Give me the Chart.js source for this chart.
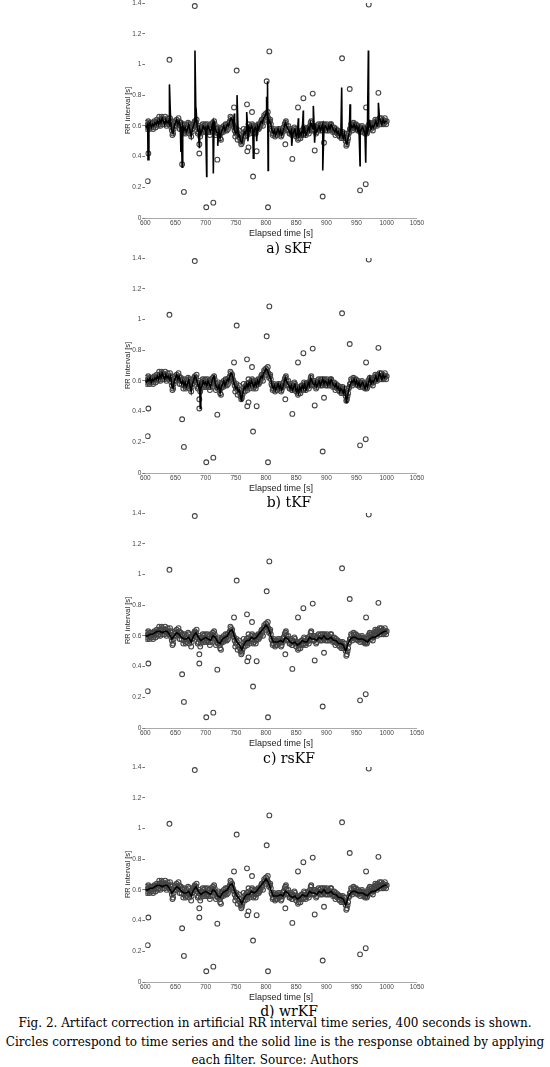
<!DOCTYPE html>
<html>
<head>
<meta charset="utf-8">
<script src="https://cdn.jsdelivr.net/npm/chart.js@4.4.0/dist/chart.umd.min.js"></script>
<style>
  body { margin: 0; width: 550px; height: 1067px; background: #fff; position: relative; overflow: hidden; }
  canvas { position: absolute; left: 0; }
  .panel-label { position: absolute; left: 189px; width: 200px; text-align: center;
                 font-family: 'DejaVu Serif', serif; font-size: 14px; line-height: 16px; color: #000; }
  .caption { position: absolute; left: 0; width: 550px; top: 1014px; text-align: center;
             font-family: 'DejaVu Serif', serif; font-size: 12px; line-height: 18.5px; color: #000; }
</style>
</head>
<body>
<canvas id="chartA" width="550" height="242"></canvas>
<canvas id="chartB" width="550" height="242"></canvas>
<canvas id="chartC" width="550" height="242"></canvas>
<canvas id="chartD" width="550" height="242"></canvas>
<div class="panel-label" id="labelA"></div>
<div class="panel-label" id="labelB"></div>
<div class="panel-label" id="labelC"></div>
<div class="panel-label" id="labelD"></div>
<div class="caption">Fig. 2. Artifact correction in artificial RR interval time series, 400 seconds is shown.<br>Circles correspond to time series and the solid line is the response obtained by applying<br>each filter. Source: Authors</div>
<script>
// ─── Data: RR interval series, beats read every 2 s from 600 s ───────────────
const RAW_T0 = 600;
const RAW_STEP = 2;
const RAW_RR = [
  0.60, 0.59, 0.61, 0.60, 0.62, 0.59, 0.61, 0.60, 0.62, 0.61,
  0.63, 0.61, 0.64, 0.62, 0.65, 0.63, 0.61, 0.64, 0.62, 0.63,
  0.61, 0.63, 0.57, 0.55, 0.60, 0.62, 0.64, 0.61, 0.63, 0.60,
  0.58, 0.60, 0.57, 0.59, 0.56, 0.58, 0.61, 0.57, 0.53, 0.58,
  0.60, 0.63, 0.62, 0.59, 0.56, 0.58, 0.55, 0.57, 0.60, 0.58,
  0.59, 0.57, 0.60, 0.58, 0.56, 0.59, 0.62, 0.63, 0.58, 0.56,
  0.55, 0.57, 0.52, 0.56, 0.58, 0.60, 0.57, 0.59, 0.61, 0.60,
  0.63, 0.65, 0.64, 0.60, 0.57, 0.55, 0.56, 0.53, 0.54, 0.50,
  0.49, 0.53, 0.56, 0.55, 0.58, 0.56, 0.59, 0.57, 0.60, 0.58,
  0.56, 0.59, 0.57, 0.60, 0.58, 0.61, 0.63, 0.62, 0.65, 0.66,
  0.68, 0.67, 0.65, 0.63, 0.61, 0.57, 0.55, 0.57, 0.54, 0.56,
  0.58, 0.55, 0.57, 0.54, 0.56, 0.59, 0.62, 0.60, 0.58, 0.57,
  0.55, 0.57, 0.54, 0.56, 0.58, 0.53, 0.55, 0.52, 0.56, 0.54,
  0.57, 0.55, 0.58, 0.54, 0.56, 0.59, 0.57, 0.62, 0.60, 0.58,
  0.57, 0.59, 0.56, 0.58, 0.60, 0.57, 0.59, 0.61, 0.58, 0.60,
  0.59, 0.57, 0.60, 0.58, 0.61, 0.59, 0.57, 0.56, 0.58, 0.55,
  0.56, 0.53, 0.55, 0.54, 0.52, 0.55, 0.50, 0.48, 0.52, 0.56,
  0.58, 0.60, 0.59, 0.61, 0.58, 0.60, 0.57, 0.59, 0.56, 0.58,
  0.59, 0.57, 0.55, 0.58, 0.56, 0.59, 0.62, 0.58, 0.60, 0.59,
  0.61, 0.63, 0.60, 0.62, 0.65, 0.63, 0.61, 0.64, 0.62, 0.63,
  0.63
];

// the beats in between (601 s, 603 s, ... 999 s)
const RAW2_T0 = 601;
const RAW2_RR = [
  0.62, 0.58, 0.63, 0.58, 0.60, 0.62, 0.58, 0.63, 0.59, 0.64,
  0.60, 0.66, 0.60, 0.66, 0.61, 0.64, 0.66, 0.60, 0.65, 0.61,
  0.65, 0.59, 0.54, 0.58, 0.63, 0.60, 0.62, 0.65, 0.58, 0.62,
  0.61, 0.55, 0.61, 0.55, 0.60, 0.62, 0.55, 0.59, 0.56, 0.61,
  0.62, 0.60, 0.64, 0.55, 0.60, 0.53, 0.59, 0.61, 0.56, 0.61,
  0.56, 0.61, 0.56, 0.54, 0.61, 0.60, 0.60, 0.61, 0.54, 0.58,
  0.59, 0.54, 0.55, 0.59, 0.56, 0.58, 0.61, 0.57, 0.58, 0.62,
  0.66, 0.62, 0.61, 0.59, 0.53, 0.58, 0.51, 0.57, 0.52, 0.48,
  0.51, 0.58, 0.53, 0.57, 0.54, 0.61, 0.55, 0.58, 0.61, 0.55,
  0.60, 0.55, 0.58, 0.61, 0.59, 0.60, 0.64, 0.60, 0.67, 0.64,
  0.66, 0.69, 0.62, 0.64, 0.58, 0.54, 0.58, 0.53, 0.57, 0.54,
  0.56, 0.58, 0.53, 0.57, 0.59, 0.61, 0.63, 0.57, 0.60, 0.55,
  0.58, 0.54, 0.57, 0.59, 0.55, 0.56, 0.51, 0.54, 0.52, 0.57,
  0.54, 0.59, 0.55, 0.57, 0.58, 0.55, 0.60, 0.63, 0.57, 0.60,
  0.60, 0.55, 0.59, 0.61, 0.58, 0.61, 0.57, 0.59, 0.61, 0.57,
  0.61, 0.59, 0.57, 0.61, 0.58, 0.56, 0.59, 0.54, 0.57, 0.57,
  0.54, 0.56, 0.52, 0.56, 0.53, 0.52, 0.47, 0.50, 0.55, 0.58,
  0.61, 0.57, 0.62, 0.59, 0.61, 0.58, 0.60, 0.58, 0.59, 0.60,
  0.56, 0.58, 0.56, 0.55, 0.60, 0.61, 0.59, 0.61, 0.57, 0.62,
  0.64, 0.61, 0.64, 0.63, 0.61, 0.65, 0.63, 0.61, 0.65, 0.61
];

// artifacts (outlier beats) in the series
const OUT_T  = [604, 605, 640, 661, 664, 682, 689.5, 689.5, 701, 712.7, 719.3, 725.4,
                747, 751.4, 768.5, 769, 771, 776.8, 778.5, 784.5, 801.1, 803.3, 805.5,
                832, 843.6, 853, 861.9, 877.4, 880.7, 893.9, 896.1, 926, 938.7,
                955.8, 965.2, 965.8, 970.2, 986.2];
const OUT_RR = [0.24, 0.42, 1.03, 0.35, 0.17, 1.38, 0.48, 0.42, 0.07, 0.10, 0.38, 0.51,
                0.72, 0.96, 0.74, 0.435, 0.46, 0.69, 0.27, 0.435, 0.89, 0.07, 1.085,
                0.48, 0.385, 0.72, 0.78, 0.81, 0.44, 0.14, 0.49, 1.04, 0.84,
                0.18, 0.22, 0.72, 1.39, 0.815];

// sKF: spikes left in the response at the artifacts
const SKF_SPIKE_T  = [604.5, 640, 659, 661, 682.3, 684, 689.5, 701.7, 712.7, 720,
                      747.5, 752, 768, 770, 779, 784.5, 801, 802.5, 803.5, 842.6,
                      853.6, 861.8, 878.4, 880.5, 894, 925.4, 939.2, 955.8, 965.2,
                      969.6, 986.2];
const SKF_SPIKE_RR = [0.38, 0.87, 0.43, 0.33, 1.09, 0.72, 0.46, 0.27, 0.29, 0.47,
                      0.68, 0.80, 0.69, 0.50, 0.39, 0.50, 0.79, 0.89, 0.31, 0.47,
                      0.65, 0.70, 0.73, 0.49, 0.31, 0.85, 0.74, 0.34, 0.36,
                      1.09, 0.75];

// tKF: residual dips
const TKF_DIP_T  = [691, 759, 933];
const TKF_DIP_RR = [0.42, 0.47, 0.46];

// rsKF / wrKF: smoothed response every 4 s from 600 s
const SMOOTH_T0 = 600;
const SMOOTH_STEP = 4;
const SMOOTH_RR = [
  0.60, 0.60, 0.61, 0.61, 0.62, 0.63, 0.63, 0.62, 0.63, 0.63,
  0.61, 0.58, 0.60, 0.62, 0.61, 0.59, 0.58, 0.58, 0.59, 0.56,
  0.60, 0.62, 0.59, 0.57, 0.58, 0.59, 0.58, 0.57, 0.60, 0.59,
  0.56, 0.55, 0.58, 0.59, 0.60, 0.63, 0.64, 0.59, 0.56, 0.54,
  0.51, 0.55, 0.57, 0.57, 0.59, 0.58, 0.59, 0.61, 0.63, 0.65,
  0.67, 0.65, 0.60, 0.56, 0.56, 0.56, 0.57, 0.56, 0.59, 0.58,
  0.56, 0.55, 0.56, 0.54, 0.55, 0.57, 0.56, 0.56, 0.59, 0.58,
  0.58, 0.57, 0.59, 0.58, 0.60, 0.58, 0.58, 0.59, 0.57, 0.57,
  0.55, 0.55, 0.54, 0.50, 0.55, 0.58, 0.59, 0.59, 0.58, 0.58,
  0.58, 0.57, 0.56, 0.58, 0.59, 0.59, 0.60, 0.61, 0.62, 0.63,
  0.63
];

const X_MIN = 600, X_MAX = 1050, X_STEP = 50;
const Y_MIN = 0, Y_MAX = 1.4, Y_STEP = 0.2;

// ─── Helpers ─────────────────────────────────────────────────────────────────
function toPoints(t0, step, values) {
  return values.map((v, i) => ({ x: t0 + i * step, y: v }));
}

function pairPoints(ts, values) {
  return ts.map((t, i) => ({ x: t, y: values[i] }));
}

function mergeSorted(a, b) {
  return a.concat(b).sort((p, q) => p.x - q.x);
}

const rawPts     = toPoints(RAW_T0, RAW_STEP, RAW_RR);
const raw2Pts    = toPoints(RAW2_T0, RAW_STEP, RAW2_RR);
const outlierPts = pairPoints(OUT_T, OUT_RR);
const circlePts  = mergeSorted(mergeSorted(rawPts, raw2Pts), outlierPts);

const responses = {
  chartA: mergeSorted(rawPts, pairPoints(SKF_SPIKE_T, SKF_SPIKE_RR)),
  chartB: mergeSorted(rawPts, pairPoints(TKF_DIP_T, TKF_DIP_RR)),
  chartC: toPoints(SMOOTH_T0, SMOOTH_STEP, SMOOTH_RR),
  chartD: toPoints(SMOOTH_T0, SMOOTH_STEP, SMOOTH_RR)
};

// ─── Layout ──────────────────────────────────────────────────────────────────
const PANELS = [
  { id: 'chartA', label: 'labelA', text: 'a) sKF',  areaTop: 3,   labelY: 248 },
  { id: 'chartB', label: 'labelB', text: 'b) tKF',  areaTop: 258, labelY: 502 },
  { id: 'chartC', label: 'labelC', text: 'c) rsKF', areaTop: 513, labelY: 758 },
  { id: 'chartD', label: 'labelD', text: 'd) wrKF', areaTop: 767, labelY: 1011 }
];
const PAD_TOP = 6;
const tickFont   = { family: 'Liberation Sans, Arial, sans-serif', size: 6.5 };
const xTitleFont = { family: 'Liberation Sans, Arial, sans-serif', size: 9 };
const yTitleFont = { family: 'Liberation Sans, Arial, sans-serif', size: 7.5 };

function renderPanel(panel) {
  const canvas = document.getElementById(panel.id);
  canvas.style.top = (panel.areaTop - PAD_TOP) + 'px';

  const lbl = document.getElementById(panel.label);
  lbl.textContent = panel.text;
  lbl.style.top = (panel.labelY - 8) + 'px';

  new Chart(canvas, {
    type: 'scatter',
    data: {
      datasets: [
        {
          label: 'Filter response',
          data: responses[panel.id],
          showLine: true,
          borderColor: '#000',
          borderWidth: 1.6,
          pointRadius: 0,
          tension: 0,
          order: 0
        },
        {
          label: 'RR series',
          data: circlePts,
          pointStyle: 'circle',
          pointRadius: 2.4,
          borderWidth: 1.1,
          borderColor: '#444',
          backgroundColor: 'rgba(255,255,255,0)',
          order: 1
        }
      ]
    },
    options: {
      responsive: false,
      animation: false,
      devicePixelRatio: 1,
      layout: { padding: { left: 123.8, right: 133.1, top: PAD_TOP, bottom: 0 } },
      plugins: { legend: { display: false }, tooltip: { enabled: false } },
      scales: {
        x: {
          type: 'linear',
          min: X_MIN, max: X_MAX,
          afterFit(scale) { scale.height = 21; },
          ticks: {
            stepSize: X_STEP, font: tickFont, color: '#444', padding: 1,
            maxRotation: 0, autoSkip: false,
            callback: v => String(v)
          },
          grid: { display: false, drawTicks: false, tickLength: 0 },
          border: { display: true, color: '#aaa', width: 1 },
          title: { display: true, text: 'Elapsed time [s]', font: xTitleFont, color: '#222', padding: 0 }
        },
        y: {
          min: Y_MIN, max: Y_MAX,
          afterFit(scale) { scale.width = 21.5; },
          ticks: {
            stepSize: Y_STEP, font: tickFont, color: '#444', padding: 1,
            callback: v => String(Math.round(v * 10) / 10)
          },
          grid: { display: true, drawOnChartArea: false, drawTicks: true, tickLength: 3, color: '#777' },
          border: { display: false },
          title: { display: true, text: 'RR interval [s]', font: yTitleFont, color: '#222', padding: 0 }
        }
      }
    }
  });
}

PANELS.forEach(renderPanel);
</script>
</body>
</html>
